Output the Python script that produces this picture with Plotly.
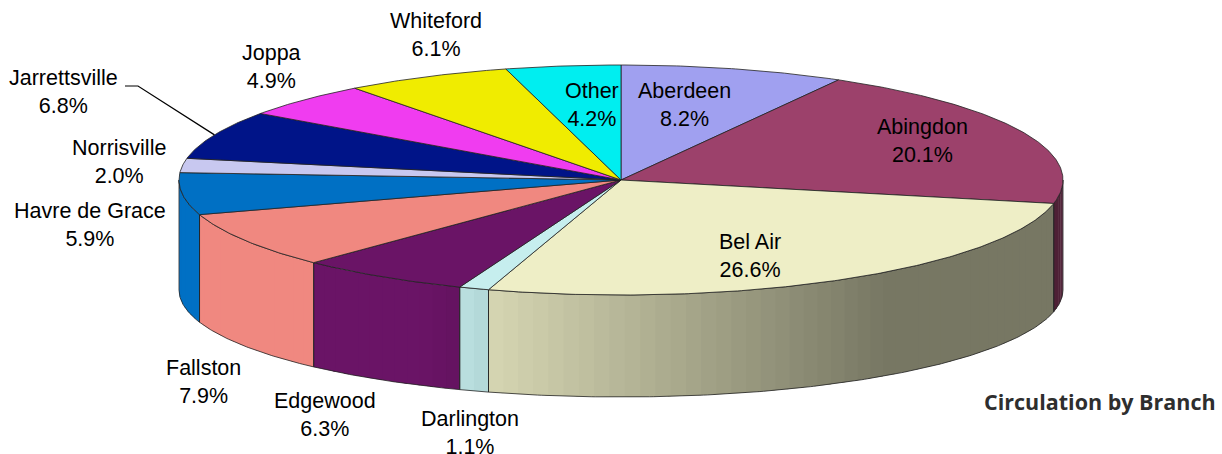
import numpy as np
import plotly.graph_objects as go

# ---------------- data ----------------
branches = ["Aberdeen", "Abingdon", "Bel Air", "Darlington", "Edgewood", "Fallston",
            "Havre de Grace", "Norrisville", "Jarrettsville", "Joppa", "Whiteford", "Other"]
shares = [8.2, 20.1, 26.6, 1.1, 6.3, 7.9, 5.9, 2.0, 6.8, 4.9, 6.1, 4.2]
title_text = "Circulation by Branch"

# ---------------- styles / layout ----------------
colors = ["#A0A0F0", "#9C416B", "#EEEEC6", "#C6EEEE", "#6A1466", "#F08880",
          "#0070C4", "#C8C8F0", "#001488", "#F03CF0", "#F0EC00", "#00EEF0"]
label_xy = {
    "Aberdeen": (684, 105), "Abingdon": (922, 141), "Bel Air": (750, 256),
    "Darlington": (470, 433), "Edgewood": (325, 415), "Fallston": (203, 382),
    "Havre de Grace": (90, 225), "Norrisville": (119, 162), "Jarrettsville": (63, 92),
    "Joppa": (271, 67), "Whiteford": (436, 35), "Other": (592, 105),
}
leader_for = "Jarrettsville"

W, H = 1222, 454
CX, CY = 621, 180      # centre of top face
RX, RY = 442, 115      # radii of top face
DEPTH, RYB = 110, 107  # thickness and bottom-face vertical radius
EDGE = "#222222"


def top_pt(phi):
    r = np.radians(phi)
    return CX + RX * np.sin(r), CY - RY * np.cos(r)


def bot_pt(phi):
    r = np.radians(phi)
    return CX + RX * np.sin(r), CY + DEPTH - RYB * np.cos(r)


def shade(hexcol, phi):
    s = np.sin(np.radians(phi))
    f = np.interp(s, [-1, -0.45, -0.3, 0.6, 1], [1.0, 1.0, 0.9, 0.5, 0.5])
    h = hexcol.lstrip("#")
    rgb = [int(h[i:i + 2], 16) for i in (0, 2, 4)]
    return "rgb(%d,%d,%d)" % tuple(min(255, round(c * f)) for c in rgb)


total = sum(shares)
bounds = np.concatenate([[0], np.cumsum(shares)]) / total * 360.0

fig = go.Figure()

# ---- side walls (front half only: 90..270 deg) ----
wall_outlines = []
for i, name in enumerate(branches):
    a, b = max(bounds[i], 90.0), min(bounds[i + 1], 270.0)
    if b <= a:
        continue
    nstrip = max(1, int(np.ceil((b - a) / 2.0)))
    edges = np.linspace(a, b, nstrip + 1)
    for k in range(nstrip):
        p0, p1 = edges[k], min(b, edges[k + 1] + 0.4)   # slight overlap hides seams
        ph = np.linspace(p0, p1, 6)
        tx, ty = top_pt(ph)
        bx, by = bot_pt(ph[::-1])
        col = shade(colors[i], (edges[k] + edges[k + 1]) / 2)
        fig.add_trace(go.Scatter(x=np.concatenate([tx, bx]), y=np.concatenate([ty, by]),
                                 fill="toself", fillcolor=col, mode="lines",
                                 line=dict(color=col, width=0), hoverinfo="skip",
                                 showlegend=False))
    ph = np.linspace(a, b, max(3, int((b - a) * 2)))
    tx, ty = top_pt(ph)
    bx, by = bot_pt(ph[::-1])
    wall_outlines.append((np.concatenate([tx, bx, tx[:1]]), np.concatenate([ty, by, ty[:1]])))

for ox, oy in wall_outlines:
    fig.add_trace(go.Scatter(x=ox, y=oy, mode="lines", line=dict(color=EDGE, width=0.8),
                             hoverinfo="skip", showlegend=False))

# ---- top faces ----
for i, name in enumerate(branches):
    a, b = bounds[i], bounds[i + 1]
    ph = np.linspace(a, b, max(3, int((b - a) * 2)))
    tx, ty = top_pt(ph)
    fig.add_trace(go.Scatter(x=np.concatenate([[CX], tx, [CX]]), y=np.concatenate([[CY], ty, [CY]]),
                             fill="toself", fillcolor=colors[i], mode="lines",
                             line=dict(color=EDGE, width=0.8), name=name,
                             hovertemplate=f"{name}: {shares[i]:.1f}%<extra></extra>",
                             showlegend=False))

# ---- leader line ----
li = branches.index(leader_for)
mid = (bounds[li] + bounds[li + 1]) / 2
ex, ey = top_pt(mid)
lx, ly = label_xy[leader_for]
fig.add_trace(go.Scatter(x=[lx + 62, lx + 75, ex], y=[ly - 6, ly - 6, ey], mode="lines",
                         line=dict(color="#000000", width=1.2), hoverinfo="skip", showlegend=False))

# ---- labels ----
for i, name in enumerate(branches):
    x, y = label_xy[name]
    fig.add_annotation(x=x, y=y, xref="x", yref="y", text=f"{name}<br>{shares[i]:.1f}%",
                       showarrow=False, xanchor="center", yanchor="middle", align="center",
                       font=dict(family="Liberation Sans, Arial, sans-serif", size=21.5, color="#000000"))

fig.add_annotation(x=1218, y=401, xref="x", yref="y", text=title_text, showarrow=False,
                   xanchor="right", yanchor="middle",
                   font=dict(family="Open Sans, sans-serif", size=21.5, weight=700, color="#2E2E2E"))

fig.update_layout(width=W, height=H, margin=dict(l=0, r=0, t=0, b=0),
                  paper_bgcolor="white", plot_bgcolor="white", showlegend=False,
                  xaxis=dict(range=[0, W], visible=False, fixedrange=True),
                  yaxis=dict(range=[H, 0], visible=False, fixedrange=True))

fig.write_html("out.html", config={"displayModeBar": False},
               post_script="document.body.style.margin='0';document.body.style.overflow='hidden';")
